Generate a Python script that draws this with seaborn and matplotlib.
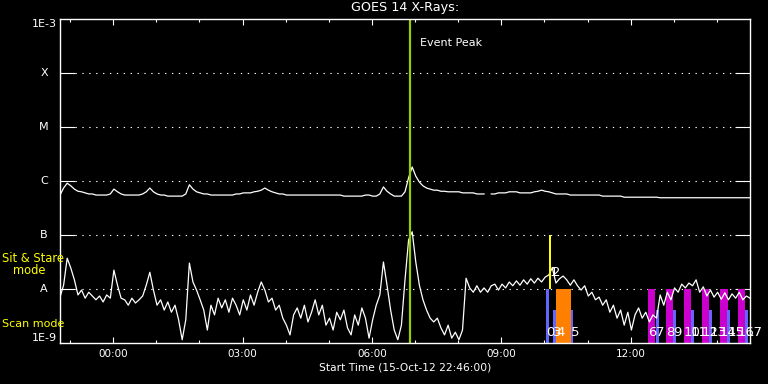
import numpy as np
import pandas as pd
import matplotlib
matplotlib.use("Agg")
import matplotlib.pyplot as plt
import matplotlib.dates as mdates
import matplotlib.transforms as mtransforms
from matplotlib.ticker import NullLocator, FixedLocator
import seaborn as sns

# ---------------- data ----------------
start_time = "2012-10-15 22:46:00"
window_hours = 16
sample_minutes = 5

# GOES 14 long channel (1-8 A), log10 W/m^2, 5-min samples (nan = data gap)
long_log_flux = [
    -6.26, -6.13, -6.04, -6.09, -6.15, -6.19, -6.20, -6.22, -6.24, -6.24,
    -6.26, -6.26, -6.26, -6.26, -6.24, -6.15, -6.20, -6.24, -6.26, -6.26,
    -6.26, -6.26, -6.26, -6.24, -6.20, -6.13, -6.20, -6.24, -6.26, -6.26,
    -6.28, -6.28, -6.28, -6.28, -6.28, -6.24, -6.07, -6.15, -6.20, -6.22,
    -6.24, -6.24, -6.26, -6.26, -6.26, -6.26, -6.26, -6.26, -6.26, -6.24,
    -6.24, -6.22, -6.22, -6.22, -6.20, -6.19, -6.17, -6.13, -6.17, -6.20,
    -6.22, -6.24, -6.24, -6.26, -6.26, -6.26, -6.26, -6.26, -6.26, -6.26,
    -6.26, -6.26, -6.26, -6.26, -6.26, -6.26, -6.26, -6.26, -6.26, -6.28,
    -6.28, -6.28, -6.28, -6.28, -6.28, -6.26, -6.26, -6.28, -6.28, -6.24,
    -6.11, -6.19, -6.24, -6.28, -6.28, -6.28, -6.20, -5.94, -5.74, -5.91,
    -6.02, -6.09, -6.13, -6.15, -6.17, -6.17, -6.19, -6.19, -6.20, -6.20,
    -6.20, -6.20, -6.22, -6.22, -6.22, -6.22, -6.24, -6.24, -6.24, np.nan,
    -6.24, -6.24, -6.22, -6.22, -6.22, -6.20, -6.20, -6.20, -6.22, -6.22,
    -6.22, -6.22, -6.20, -6.19, -6.17, -6.19, -6.20, -6.22, -6.24, -6.24,
    -6.24, -6.24, -6.26, -6.26, -6.26, -6.26, -6.26, -6.26, -6.26, -6.26,
    -6.26, -6.28, -6.28, -6.28, -6.28, -6.28, -6.28, -6.30, -6.30, -6.30,
    -6.30, -6.30, -6.30, -6.30, -6.30, -6.30, -6.30, -6.31, -6.31, -6.31,
    -6.31, -6.31, -6.31, -6.31, -6.31, -6.31, -6.31, -6.31, -6.31, -6.31,
    -6.31, -6.31, -6.31, -6.31, -6.31, -6.31, -6.31, -6.31, -6.31, -6.31,
    -6.31, -6.31, -6.31,
]

# GOES 14 short channel (0.5-4 A), log10 W/m^2, 5-min samples
short_log_flux = [
    -8.15, -7.93, -7.43, -7.61, -7.83, -8.11, -8.02, -8.17, -8.06, -8.13,
    -8.20, -8.13, -8.24, -8.11, -8.17, -7.65, -7.93, -8.17, -8.20, -8.30,
    -8.17, -8.26, -8.20, -8.13, -7.93, -7.69, -8.02, -8.30, -8.20, -8.39,
    -8.24, -8.43, -8.30, -8.57, -8.94, -8.57, -7.52, -7.87, -8.02, -8.20,
    -8.39, -8.76, -8.30, -8.48, -8.17, -8.35, -8.20, -8.43, -8.17, -8.30,
    -8.48, -8.20, -8.39, -8.11, -8.30, -8.06, -7.87, -8.02, -8.24, -8.17,
    -8.39, -8.30, -8.54, -8.67, -8.85, -8.48, -8.35, -8.54, -8.30, -8.61,
    -8.43, -8.20, -8.48, -8.30, -8.67, -8.54, -8.76, -8.43, -8.57, -8.39,
    -8.72, -8.85, -8.48, -8.67, -8.35, -8.54, -8.91, -8.57, -8.30, -8.11,
    -7.50, -7.93, -8.39, -8.76, -8.94, -8.67, -7.83, -7.09, -6.94, -7.50,
    -7.93, -8.20, -8.39, -8.54, -8.61, -8.54, -8.72, -8.85, -8.67, -8.91,
    -8.80, -8.94, -8.76, -7.80, -7.98, -8.06, -7.94, -8.06, -7.98, -8.06,
    -7.94, -7.91, -8.02, -7.91, -7.98, -7.87, -7.94, -7.85, -7.93, -7.83,
    -7.91, -7.81, -7.89, -7.80, -7.87, -7.78, -7.74, -7.61, -7.89, -7.81,
    -7.76, -7.83, -7.93, -7.83, -7.94, -8.02, -7.94, -8.13, -8.06, -8.20,
    -8.15, -8.30, -8.20, -8.43, -8.30, -8.54, -8.39, -8.67, -8.43, -8.76,
    -8.48, -8.35, -8.54, -8.43, -8.61, -8.48, -8.54, -8.11, -8.30, -8.06,
    -8.20, -7.98, -8.06, -7.91, -7.98, -7.89, -7.94, -7.83, -8.06, -7.96,
    -8.13, -8.02, -8.15, -8.06, -8.19, -8.07, -8.20, -8.09, -8.17, -8.06,
    -8.20, -8.13, -8.17,
]

level_values = [1e-8, 1e-7, 1e-6, 1e-5, 1e-4]
level_labels = ["A", "B", "C", "M", "X"]
event_peak_time = "2012-10-16 06:53:00"

# observations (minutes after start)
obs_labels = ["0", "1", "2", "3", "4", "5", "6", "7", "8", "9",
              "10", "11", "12", "13", "14", "15", "16", "17"]
obs_start_min = [675.7, 681.0, 684.5, 686.0, 690.1, 710.5,
                 818.1, 828.8, 843.1, 853.3, 868.2, 877.9,
                 893.2, 903.4, 918.3, 928.4, 943.3, 953.5]
obs_dur_min = [4.6, 2.6, 0.0, 4.2, 20.4, 2.8,
               10.4, 4.6, 10.4, 4.2, 10.4, 4.2,
               10.4, 4.2, 10.4, 4.2, 10.4, 4.2]
obs_bottom_log = [-9.0, -8.0, -9.0, -9.0, -9.0, -9.0,
                  -9.0, -9.0, -9.0, -9.0, -9.0, -9.0,
                  -9.0, -9.0, -9.0, -9.0, -9.0, -9.0]
obs_top_log = [-8.0, -7.0, -9.0, -8.39, -8.0, -8.39,
               -8.0, -8.39, -8.0, -8.39, -8.0, -8.39,
               -8.0, -8.39, -8.0, -8.39, -8.0, -8.39]
obs_kind = ["blue", "yellow", "none", "blue", "orange", "blue",
            "magenta", "blue", "magenta", "blue", "magenta", "blue",
            "magenta", "blue", "magenta", "blue", "magenta", "blue"]
obs_label_log = [-8.80, -7.69, -7.69, -8.80, -8.80, -8.80,
                 -8.80, -8.80, -8.80, -8.80, -8.80, -8.80,
                 -8.80, -8.80, -8.80, -8.80, -8.80, -8.80]

kind_colors = {"blue": "#6464ff", "yellow": "#ffff00", "orange": "#ff8000",
               "magenta": "#cc00cc", "none": "none"}

# ---------------- frame ----------------
t0 = pd.Timestamp(start_time)
times = pd.date_range(t0, periods=len(short_log_flux), freq=f"{sample_minutes}min")

long_df = pd.DataFrame({"time": times, "logf": long_log_flux, "ch": "long"})
long_df["seg"] = long_df["logf"].isna().cumsum()
short_df = pd.DataFrame({"time": times, "logf": short_log_flux, "ch": "short"})
short_df["seg"] = 100
df = pd.concat([long_df, short_df]).dropna(subset=["logf"])
df["flux"] = 10.0 ** df["logf"]
df["unit"] = df["ch"] + df["seg"].astype(str)

# ---------------- plot ----------------
W, H = 768, 384
fig = plt.figure(figsize=(W / 100, H / 100), dpi=100, facecolor="black")
ax = fig.add_axes([60 / W, 1 - 343 / H, 690 / W, 324 / H])
ax.set_facecolor("black")
plt.rcParams["font.family"] = ["DejaVu Sans"]

ax.set_yscale("log")
ax.set_ylim(1e-9, 1e-3)
ax.set_xlim(t0, t0 + pd.Timedelta(hours=window_hours))

# dotted level lines with solid start
for lv in level_values:
    ax.axhline(lv, xmin=15 / 690, xmax=1, color="white", lw=0.8,
               linestyle=(0, (1.2, 5.0)), zorder=1)

# observation bars
for lab, st, du, b, tp, kd, ly in zip(obs_labels, obs_start_min, obs_dur_min,
                                      obs_bottom_log, obs_top_log, obs_kind,
                                      obs_label_log):
    xs = t0 + pd.Timedelta(minutes=st)
    if kd != "none" and du > 0:
        ax.bar(xs, 10 ** tp - 10 ** b, width=pd.Timedelta(minutes=du),
               bottom=10 ** b, align="edge", color=kind_colors[kd],
               edgecolor="none", linewidth=0,
               zorder=6 if kd == "yellow" else 2)

# curves
sns.lineplot(data=df, x="time", y="flux", units="unit", estimator=None,
             color="white", lw=0.9, legend=False, ax=ax, zorder=3)

for lab, st, ly in zip(obs_labels, obs_start_min, obs_label_log):
    xs = t0 + pd.Timedelta(minutes=st)
    ax.text(xs, 10 ** ly, lab, color="white", fontsize=9.5, ha="left",
            va="center", zorder=5, clip_on=False)

# event peak
peak = pd.Timestamp(event_peak_time)
ax.axvline(peak, color="#99cc00", lw=1.6, zorder=7)
ax.annotate("Event Peak", xy=(peak, 0.926), xycoords=("data", "axes fraction"),
            xytext=(7.2, 0), textcoords="offset points", color="white",
            fontsize=8, va="center", ha="left")

# axes styling
for sp in ax.spines.values():
    sp.set_color("white")
    sp.set_linewidth(1.0)
    sp.set_zorder(8)

ax.xaxis.set_major_locator(mdates.HourLocator(byhour=range(0, 24, 3)))
ax.xaxis.set_minor_locator(mdates.HourLocator())
ax.xaxis.set_major_formatter(mdates.DateFormatter("%H:%M"))
ax.tick_params(axis="x", which="major", direction="in", length=4.5, width=0.8,
               colors="white", top=True, bottom=True, labelsize=7.5, pad=4)
ax.tick_params(axis="x", which="minor", direction="in", length=2.5, width=0.8,
               colors="white", top=True, bottom=True)

ax.yaxis.set_major_locator(FixedLocator(level_values))
ax.yaxis.set_minor_locator(NullLocator())
ax.tick_params(axis="y", which="major", direction="in", length=10.8, width=0.8,
               colors="white", left=True, right=True, labelleft=False)
ax.set_xlabel("")
ax.set_ylabel("")

trans = mtransforms.blended_transform_factory(fig.transFigure, ax.transData)
for lv, lb in zip(level_values, level_labels):
    ax.text(44 / W, lv, lb, transform=trans, color="white", fontsize=8,
            ha="center", va="center")
ax.text(57 / W, 1e-3, "1E-3", transform=trans, color="white", fontsize=8,
        ha="right", va="top")
ax.text(57 / W, 1e-9, "1E-9", transform=trans, color="white", fontsize=8,
        ha="right", va="bottom")

fig.text(405 / W, 1 - 8 / H, "GOES 14 X-Rays:", color="white", fontsize=9.2,
         ha="center", va="center")
fig.text(405 / W, 1 - 368 / H, "Start Time (15-Oct-12 22:46:00)", color="white",
         fontsize=7.7, ha="center", va="center")

fig.text(2 / W, 1 - 259 / H, "Sit & Stare", color="#ffff00", fontsize=8.3,
         ha="left", va="center")
fig.text(13 / W, 1 - 271 / H, "mode", color="#ffff00", fontsize=8.3,
         ha="left", va="center")
fig.text(2 / W, 1 - 324 / H, "Scan mode", color="#ffff00", fontsize=8,
         ha="left", va="center")

fig.savefig("out.png", dpi=100, facecolor="black")
